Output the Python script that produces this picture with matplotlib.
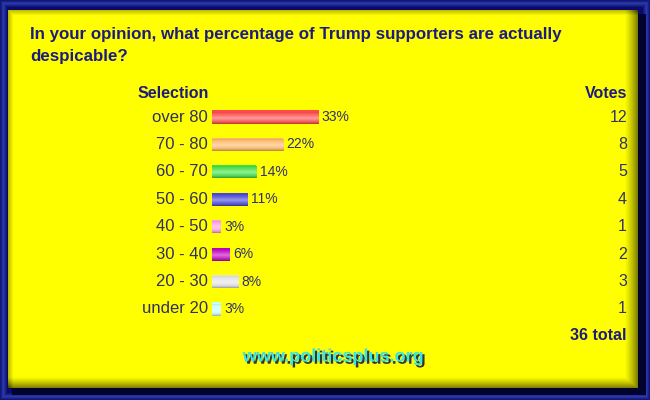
import matplotlib
matplotlib.use("Agg")
import matplotlib.pyplot as plt
import matplotlib.patheffects as pe
import numpy as np
from matplotlib.colors import to_rgb
from matplotlib.transforms import blended_transform_factory

# poll data
selections = ["over 80", "70 - 80", "60 - 70", "50 - 60", "40 - 50", "30 - 40", "20 - 30", "under 20"]
votes = [12, 8, 5, 4, 1, 2, 3, 1]
pct_labels = ["33%", "22%", "14%", "11%", "3%", "6%", "8%", "3%"]
bar_colors = ["#ff4a4a", "#ffb865", "#3ee03e", "#4646d8", "#ff9ee8", "#c000c0", "#e4e4e4", "#c8ffff"]
total = sum(votes)
title = "In your opinion, what percentage of Trump supporters are actually\ndespicable?"

plt.rcParams["font.family"] = ["Liberation Sans", "DejaVu Sans"]

W, H = 650, 400
navy = "#1c1c80"
fig = plt.figure(figsize=(W / 100, H / 100), dpi=100, facecolor="#0c0c72")


def fx(px):
    return px / W


def fy(py):
    return 1 - py / H


# background: navy frame with a bevelled yellow panel
bg = fig.add_axes([0, 0, 1, 1], zorder=-5)
bg.axis("off")
yy, xx = np.mgrid[0:H, 0:W]
edge = np.minimum(np.minimum(xx, W - 1 - xx), np.minimum(yy, H - 1 - yy))
glow = np.clip(1 - np.abs(edge - 3) / 4, 0, 1)
img = np.zeros((H, W, 3))
img[:] = to_rgb("#0a0a6c")
img += glow[..., None] * (np.array(to_rgb("#2a3aa8")) - np.array(to_rgb("#0a0a6c")))
# drop shadow
sh = (xx >= 12) & (xx < 646) & (yy >= 14) & (yy < 395)
img[sh] = to_rgb("#02022e")
x0, x1, y0, y1 = 8, 638, 10, 388
panel = (xx >= x0) & (xx < x1) & (yy >= y0) & (yy < y1)
dr = np.clip((xx - (x1 - 14)) / 14, 0, 1)
db = np.clip((yy - (y1 - 12)) / 12, 0, 1)
dl = np.clip(((x0 + 5) - xx) / 5, 0, 1)
dt = np.clip(((y0 + 5) - yy) / 5, 0, 1)
shade = 1 - 0.55 * np.maximum(dr, db) ** 1.3 - 0.25 * np.maximum(dl, dt)
yellow = np.array(to_rgb("#ffff00"))
img[panel] = (shade[..., None] * yellow)[panel]
bg.imshow(np.clip(img, 0, 1), extent=(0, W, H, 0), aspect="auto", interpolation="bilinear")
bg.set_xlim(0, W)
bg.set_ylim(H, 0)

fig.text(fx(30), fy(27), title, ha="left", va="top", fontsize=12.2, fontweight="bold",
         color=navy, linespacing=1.55)
fig.text(fx(173), fy(93), "Selection", ha="center", va="center", fontsize=11.5,
         fontweight="bold", color=navy)
fig.text(fx(627), fy(93), "Votes", ha="right", va="center", fontsize=11.5,
         fontweight="bold", color=navy)

# bars: 1% = 3.2 px
ax = fig.add_axes([fx(212), fy(322.7), fx(320), 219.4 / H])
ax.axis("off")

pcts = [v / total * 100 for v in votes]
ypos = list(range(len(selections)))
bars = ax.barh(ypos, pcts, height=0.48, color=bar_colors, edgecolor="none")

# tube-like vertical gradient inside each bar
prof = np.linspace(-1, 1, 32)
light = 0.45 * (1 - np.abs(prof - 0.15)) ** 1.5
dark = 0.30 * np.abs(prof) ** 4
for rect, c in zip(bars, bar_colors):
    base = np.array(to_rgb(c))
    col = base[None, :] * (1 - dark[:, None]) + (1 - base[None, :]) * light[:, None]
    grad = np.clip(col, 0, 1)[:, None, :]
    bx, by, bw, bh = rect.get_x(), rect.get_y(), rect.get_width(), rect.get_height()
    im = ax.imshow(grad, extent=(bx, bx + bw, by + bh, by), aspect="auto",
                   interpolation="bilinear", zorder=2)
    im.set_clip_path(rect)
ax.set_xlim(0, 100)
ax.set_ylim(len(selections) - 0.5, -0.5)

right = blended_transform_factory(fig.transFigure, ax.transData)
for i, (p, lab, sel, v) in enumerate(zip(pcts, pct_labels, selections, votes)):
    ax.text(p + 1.0, i, lab, ha="left", va="center", fontsize=10, color="#303070")
    ax.text(-1.3, i, sel, ha="right", va="center", fontsize=12, color="#303060")
    ax.text(fx(627), i, str(v), transform=right, ha="right", va="center",
            fontsize=11.5, color="#303070")

fig.text(fx(627), fy(336), f"{total} total", ha="right", va="center", fontsize=11.5,
         fontweight="bold", color=navy)

fig.text(fx(333), fy(357), "www.politicsplus.org", ha="center", va="center", fontsize=13,
         fontweight="bold", color="#38e8e0",
         path_effects=[pe.withSimplePatchShadow(offset=(1.6, -1.6), shadow_rgbFace="#202040", alpha=0.9)])

fig.savefig("out.png", dpi=100, facecolor=fig.get_facecolor())
